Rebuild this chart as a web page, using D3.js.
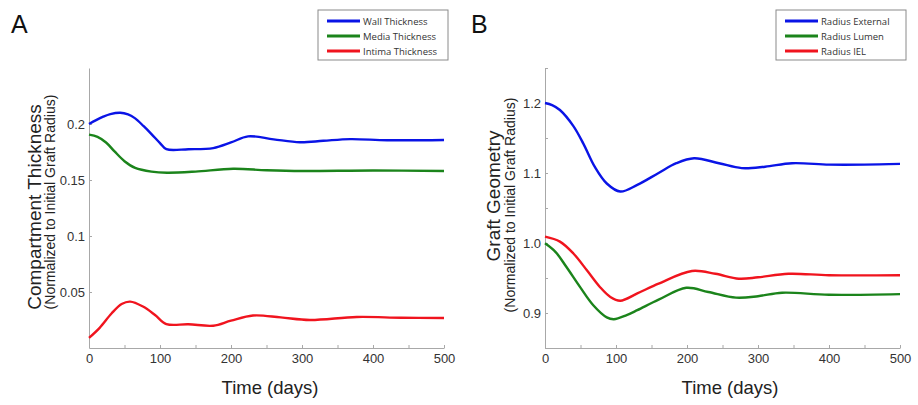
<!DOCTYPE html>
<html>
<head>
<meta charset="utf-8">
<script src="https://cdn.jsdelivr.net/npm/d3@7"></script>
<style>
    body { margin: 0; background: #fff; }
    svg { display: block; font-family: 'Liberation Sans', Arial, sans-serif; }
</style>
</head>
<body>
<svg class="canvas"></svg>
<script>
/*################
Data
################*/
// Panel A - compartment thickness
const wallDays = [0, 10, 20, 30, 44, 55, 65, 77, 88, 100, 109, 140, 175, 200, 224, 260, 297, 330, 368, 420, 500];
const wallThickness = [0.200, 0.2035, 0.2065, 0.2088, 0.210, 0.2085, 0.205, 0.198, 0.191, 0.183, 0.1775, 0.1775, 0.1785, 0.1835, 0.189, 0.1863, 0.1837, 0.185, 0.1865, 0.1855, 0.1857];

const mediaDays = [0, 12, 24, 36, 50, 65, 88, 110, 150, 203, 250, 300, 400, 500];
const mediaThickness = [0.1905, 0.1885, 0.1835, 0.1755, 0.1668, 0.1608, 0.1575, 0.1565, 0.1575, 0.160, 0.1587, 0.158, 0.1585, 0.158];

const intimaDays = [0, 15, 32, 46, 58, 76, 93, 109, 140, 175, 200, 231, 270, 311, 377, 440, 500];
const intimaThickness = [0.009, 0.018, 0.031, 0.0393, 0.0414, 0.037, 0.0295, 0.0214, 0.0212, 0.0199, 0.0244, 0.029, 0.0273, 0.025, 0.0277, 0.027, 0.0268];

// Panel B - graft geometry
const externalDays = [0, 10, 21, 40, 54, 70, 87, 106, 130, 160, 185, 210, 245, 277, 310, 348, 400, 450, 500];
const radiusExternal = [1.200, 1.197, 1.190, 1.167, 1.142, 1.109, 1.085, 1.0735, 1.083, 1.100, 1.114, 1.121, 1.114, 1.107, 1.109, 1.114, 1.112, 1.112, 1.113];

const lumenDays = [0, 15, 30, 49, 68, 87, 97, 115, 130, 160, 199, 230, 269, 300, 334, 400, 500];
const radiusLumen = [0.9995, 0.987, 0.966, 0.9376, 0.911, 0.8937, 0.891, 0.897, 0.904, 0.919, 0.936, 0.930, 0.922, 0.924, 0.929, 0.926, 0.927];

const ielDays = [0, 21, 40, 59, 77, 92, 106, 130, 160, 207, 240, 273, 300, 343, 400, 500];
const radiusIEL = [1.009, 1.002, 0.985, 0.961, 0.9376, 0.923, 0.9176, 0.928, 0.942, 0.960, 0.956, 0.949, 0.951, 0.956, 0.954, 0.954];

const xTicks = [0, 50, 100, 150, 200, 250, 300, 350, 400, 450, 500];
const yTicksA = [0.05, 0.1, 0.15, 0.2];
const yTicksB = [0.85, 0.9, 0.95, 1.0, 1.05, 1.1, 1.15, 1.2, 1.25];

const colors = ['#0a14e6', '#1b841b', '#f0141e'];

/*################
Canvas
################*/
const width = 918, height = 405;

const canvas = d3.select('.canvas')
    .attr('width', width)
    .attr('height', height);

const zip = (days, vals) => days.map((d, i) => ({ t: d, v: vals[i] }));

const panels = [
    {
        letter: 'A', letterX: 11, x0: 89, x1: 444,
        domain: [0, 0.25], yTicks: yTicksA, fmt: d => d3.format('~g')(d),
        title: 'Compartment Thickness', titleX: 41, titleY: 207, subX: 55, subY: 202, xTitleX: 270,
        legendX: 318,
        series: [
            { name: 'Wall Thickness', data: zip(wallDays, wallThickness) },
            { name: 'Media Thickness', data: zip(mediaDays, mediaThickness) },
            { name: 'Intima Thickness', data: zip(intimaDays, intimaThickness) }
        ]
    },
    {
        letter: 'B', letterX: 471, x0: 545, x1: 900,
        domain: [0.85, 1.25], yTicks: yTicksB,
        fmt: d => (Math.round(d * 100) % 10 === 0 ? d3.format('.1f')(d) : ''),
        title: 'Graft Geometry', titleX: 500, titleY: 196, subX: 515, subY: 205, xTitleX: 730,
        legendX: 776,
        series: [
            { name: 'Radius External', data: zip(externalDays, radiusExternal) },
            { name: 'Radius Lumen', data: zip(lumenDays, radiusLumen) },
            { name: 'Radius IEL', data: zip(ielDays, radiusIEL) }
        ]
    }
];

const yTop = 68, yBottom = 348;

let drawPanel = (p) => {
    const g = canvas.append('g');

    const x = d3.scaleLinear().domain([0, 500]).range([p.x0, p.x1]);
    const y = d3.scaleLinear().domain(p.domain).range([yBottom, yTop]);

    // axes
    g.append('g')
        .attr('transform', `translate(0, ${yBottom})`)
        .call(d3.axisBottom(x)
            .tickValues(xTicks)
            .tickSizeInner(-3)
            .tickSizeOuter(0)
            .tickPadding(6)
            .tickFormat(d => d % 100 === 0 ? d : ''))
        .call(ax => ax.select('.domain').attr('stroke', '#a8a8a8'))
        .call(ax => ax.selectAll('line').attr('stroke', '#a8a8a8'))
        .call(ax => ax.selectAll('text').attr('fill', '#333').style('font-size', '13px'));

    g.append('g')
        .attr('transform', `translate(${p.x0}, 0)`)
        .call(d3.axisLeft(y)
            .tickValues(p.yTicks)
            .tickSizeInner(-3)
            .tickSizeOuter(0)
            .tickPadding(4)
            .tickFormat(p.fmt))
        .call(ax => ax.select('.domain').attr('stroke', '#a8a8a8'))
        .call(ax => ax.selectAll('line').attr('stroke', '#a8a8a8'))
        .call(ax => ax.selectAll('text').attr('fill', '#333').style('font-size', '13px'));

    // curves
    const line = d3.line()
        .x(d => x(d.t))
        .y(d => y(d.v))
        .curve(d3.curveCatmullRom.alpha(0.5));

    g.selectAll('.series')
        .data(p.series)
        .enter()
        .append('path')
        .attr('class', 'series')
        .attr('d', d => line(d.data))
        .attr('fill', 'none')
        .attr('stroke', (d, i) => colors[i])
        .attr('stroke-width', 2.4)
        .attr('stroke-linejoin', 'round');

    // labels
    g.append('text')
        .attr('x', p.letterX)
        .attr('y', 33)
        .style('font-size', '25px')
        .attr('fill', '#111')
        .text(p.letter);

    g.append('text')
        .attr('transform', `translate(${p.titleX}, ${p.titleY}) rotate(-90)`)
        .attr('text-anchor', 'middle')
        .style('font-size', '19px')
        .attr('fill', '#222')
        .text(p.title);

    g.append('text')
        .attr('transform', `translate(${p.subX}, ${p.subY}) rotate(-90)`)
        .attr('text-anchor', 'middle')
        .style('font-size', '14px')
        .attr('fill', '#222')
        .text('(Normalized to Initial Graft Radius)');

    g.append('text')
        .attr('x', p.xTitleX)
        .attr('y', 394)
        .attr('text-anchor', 'middle')
        .style('font-size', '18.5px')
        .attr('fill', '#222')
        .text('Time (days)');

    // legend
    const legend = g.append('g')
        .attr('transform', `translate(${p.legendX}, 10)`);

    legend.append('rect')
        .attr('width', 130)
        .attr('height', 50)
        .attr('fill', '#fff')
        .attr('stroke', '#8a8a8a');

    legend.selectAll('.legend-item')
        .data(p.series)
        .enter()
        .append('g')
        .attr('class', 'legend-item')
        .attr('transform', (d, i) => `translate(0, ${11 + i * 15})`)
        .call(e => e.append('line')
            .attr('x1', 9)
            .attr('x2', 42)
            .attr('stroke', (d, i) => colors[i])
            .attr('stroke-width', 3))
        .call(e => e.append('text')
            .attr('x', 45)
            .attr('y', 3.5)
            .style('font-family', "'Open Sans', sans-serif")
            .style('font-size', '9.5px')
            .attr('fill', '#333')
            .text(d => d.name));
};

panels.forEach(drawPanel);
</script>
</body>
</html>
